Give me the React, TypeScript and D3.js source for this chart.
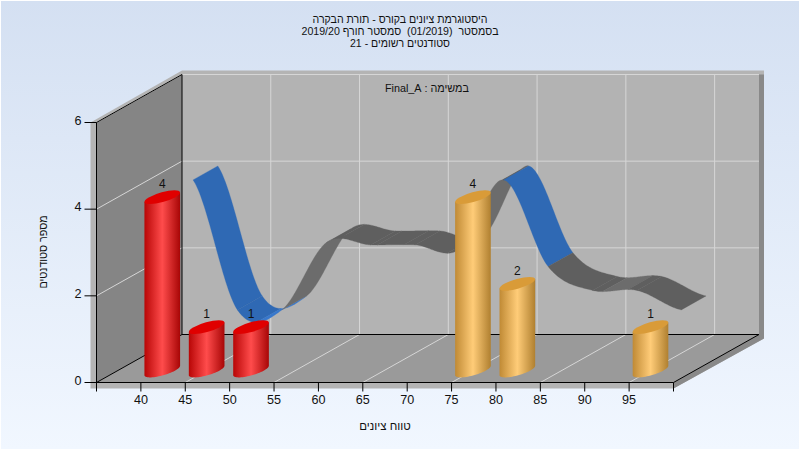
import * as d3 from "d3";

const bins = [40, 45, 50, 55, 60, 65, 70, 75, 80, 85, 90, 95];
const barValues = [4, 1, 1, 0, 0, 0, 0, 4, 2, 0, 0, 1];
const ribbonValues = [4, 1, 1, 2.55, 2.5, 2.5, 2.4, 4, 2, 1.45, 1.45, 1];
const blueBins = [40, 45, 75];
const redBins = [40, 45, 50];
const flatShadeBins = [55, 60, 65];
const yTicks = [0, 2, 4, 6];
const gridBins = [45, 55, 65, 75, 85, 95];
const titleLines = [
  "היסטוגרמת ציונים בקורס - תורת הבקרה",
  "בסמסטר  (01/2019)  סמסטר חורף 2019/20",
  "סטודנטים רשומים - 21",
];

const W = 800;
const H = 450;
const FONT = "'Liberation Sans', Arial, sans-serif";

const x = d3.scaleLinear().domain([35, 100]).range([96.5, 673.5]);
const y = d3.scaleLinear().domain([0, 6]).range([382.5, 122.5]);
// depth goes up and to the right
const dx = d3.scaleLinear().domain([0, 1]).range([0, 85.5]);
const dy = d3.scaleLinear().domain([0, 1]).range([0, -48]);

const x0 = x(35);
const x1 = x(100);
const y0 = y(0);
const y6 = y(6);
const D = dx(1);
const E = dy(1);

const poly = (pts: number[][]) => "M" + pts.map((p) => p.join(",")).join("L") + "Z";

// same tangents as the chart's spline
function spline(a: number, b: number, ma: number, mb: number, t: number) {
  const t2 = t * t;
  const t3 = t2 * t;
  return (2 * t3 - 3 * t2 + 1) * a + (t3 - 2 * t2 + t) * ma + (-2 * t3 + 3 * t2) * b + (t3 - t2) * mb;
}

// one polygon per run of the same shade, so no seams show between strips
function ribbonRuns() {
  const out: { d: string; fill: string }[] = [];
  const n = ribbonValues.length;
  const k0 = 0.61;
  const k1 = 0.9;
  const slope = (i: number) =>
    (ribbonValues[Math.min(i + 1, n - 1)] - ribbonValues[Math.max(i - 1, 0)]) / 2;
  const step = bins[1] - bins[0];
  for (let i = 0; i < n - 1; i++) {
    const blue = blueBins.includes(bins[i]);
    const flat = flatShadeBins.includes(bins[i]);
    const ts = d3.range(0, 41).map((d) => d / 40);
    const vals = ts.map((t) =>
      spline(ribbonValues[i], ribbonValues[i + 1], slope(i), slope(i + 1), t)
    );
    let run = [0];
    const flush = (up: boolean) => {
      const fill = blue ? (up ? "#3878cc" : "#2f69b4") : up && !flat ? "#6c6c6c" : "#5f5f5f";
      const front = run.map((j) => [x(bins[i] + step * ts[j]) + dx(k0), y(vals[j]) + dy(k0)]);
      const back = run.map((j) => [x(bins[i] + step * ts[j]) + dx(k1), y(vals[j]) + dy(k1)]);
      out.push({ fill, d: poly([...front, ...back.reverse()]) });
    };
    let up = vals[1] > vals[0];
    for (let j = 1; j < ts.length; j++) {
      const u = vals[j] > vals[j - 1];
      if (u !== up) {
        flush(up);
        run = [j - 1];
        up = u;
      }
      run.push(j);
    }
    flush(up);
  }
  return out;
}

const HALF_W = 13;
const HALF_DX = 12.2;
const HALF_DY = 6.9;

function Bar({ bin, value }: { bin: number; value: number }) {
  const red = redBins.includes(bin);
  const cx = x(bin) + dx(0.25);
  const cyBase = y(0) + dy(0.25);
  const cyTop = y(value) + dy(0.25);
  const start = Math.PI + Math.atan2(HALF_DX, HALF_W);
  const lower = d3.range(0, 33).map((i) => {
    const t = start + (Math.PI * i) / 32;
    return [cx + HALF_W * Math.cos(t) + HALF_DX * Math.sin(t), cyBase - HALF_DY * Math.sin(t)];
  });
  const last = lower[lower.length - 1];
  const first = lower[0];
  const h = cyBase - cyTop;
  const body = poly([...lower, [last[0], last[1] - h], [first[0], first[1] - h]]);
  return (
    <g>
      <path d={body} fill={red ? "url(#barRed)" : "url(#barOrange)"} />
      <ellipse
        rx={1}
        ry={1}
        transform={`matrix(${HALF_W} 0 ${HALF_DX} ${-HALF_DY} ${cx} ${cyTop})`}
        fill={red ? "#e00000" : "#d99b38"}
      />
      <text x={cx} y={cyTop - 9} textAnchor="middle" fontSize={12} fill="#111">
        {value}
      </text>
    </g>
  );
}

export default function App() {
  const grid = "#d6d6d6";
  return (
    <svg
      width={W}
      height={H}
      viewBox={`0 0 ${W} ${H}`}
      style={{ position: "absolute", left: 0, top: 0, fontFamily: FONT }}
    >
      <defs>
        <linearGradient id="bg" x1="0" y1="0" x2="0" y2="1">
          <stop offset="0" stopColor="#d4e0f2" />
          <stop offset="1" stopColor="#f1f7ff" />
        </linearGradient>
        <linearGradient id="barRed" x1="0" y1="0" x2="1" y2="0">
          <stop offset="0" stopColor="#b80606" />
          <stop offset="0.5" stopColor="#ff4c4c" />
          <stop offset="1" stopColor="#a80606" />
        </linearGradient>
        <linearGradient id="barOrange" x1="0" y1="0" x2="1" y2="0">
          <stop offset="0" stopColor="#c08a35" />
          <stop offset="0.5" stopColor="#ffcc78" />
          <stop offset="1" stopColor="#b08030" />
        </linearGradient>
      </defs>
      <rect x={0.5} y={0.5} width={W - 1} height={H - 1} fill="url(#bg)" stroke="#fff" />

      {/* outer edges of the box */}
      <path
        d={poly([
          [x0 - 6, y6],
          [x0 + D, y6 + E - 4],
          [x1 + D + 5, y6 + E - 4],
          [x1 + D + 5, y0 + E + 4],
          [x1, y0 + 6],
          [x0 - 6, y0 + 6],
        ])}
        fill="#b4b4b4"
      />
      <path
        d={poly([
          [x1 + D, y6 + E],
          [x1 + D + 5, y6 + E],
          [x1 + D + 5, y0 + E + 4],
          [x1, y0 + 6],
          [x1, y0],
          [x1 + D, y0 + E],
        ])}
        fill="#898989"
      />

      {/* walls */}
      <rect x={x0 + D} y={y6 + E} width={x1 - x0} height={y0 - y6} fill="#b3b3b3" />
      <path d={poly([[x0, y6], [x0 + D, y6 + E], [x0 + D, y0 + E], [x0, y0]])} fill="#858585" />
      <path d={poly([[x0, y0], [x0 + D, y0 + E], [x1 + D, y0 + E], [x1, y0]])} fill="#9a9a9a" />

      {/* grid */}
      {gridBins.map((b) => (
        <g key={b} stroke={grid} fill="none">
          <line x1={x(b)} y1={y0} x2={x(b) + D} y2={y0 + E} />
          <line x1={x(b) + D} y1={y0 + E} x2={x(b) + D} y2={y6 + E} />
        </g>
      ))}
      {yTicks.filter((t) => t > 0).map((t) => (
        <g key={t} stroke={grid} fill="none">
          <line x1={x0} y1={y(t)} x2={x0 + D} y2={y(t) + E} />
          <line x1={x0 + D} y1={y(t) + E} x2={x1 + D} y2={y(t) + E} />
        </g>
      ))}

      {/* axes */}
      <g stroke="#000" fill="none">
        <line x1={x0 + D} y1={y6 + E} x2={x0 + D} y2={y0 + E} />
        <line x1={x0 + D} y1={y0 + E} x2={x1 + D} y2={y0 + E} />
        <line x1={x0} y1={y0} x2={x0 + D} y2={y0 + E} />
        <line x1={x0} y1={y6} x2={x0 + D} y2={y6 + E} />
        <line x1={x1} y1={y0} x2={x1 + D} y2={y0 + E} />
        <line x1={x0} y1={y6} x2={x0} y2={y0 + 9} />
        <line x1={x0} y1={y0} x2={x1} y2={y0} />
        <line x1={x1} y1={y0} x2={x1} y2={y0 + 9} />
        {bins.map((b) => (
          <line key={b} x1={x(b)} y1={y0} x2={x(b)} y2={y0 + 9} />
        ))}
        {yTicks.map((t) => (
          <line key={t} x1={x0 - 12} y1={y(t)} x2={x0} y2={y(t)} />
        ))}
      </g>

      {/* ribbon sits behind the bars */}
      <g>
        {ribbonRuns().map((q, i) => (
          <path key={i} d={q.d} fill={q.fill} stroke={q.fill} strokeWidth={0.3} />
        ))}
      </g>

      {bins.map((b, i) =>
        barValues[i] > 0 ? <Bar key={b} bin={b} value={barValues[i]} /> : null
      )}

      {/* tick labels */}
      <g fontSize={12.6} fill="#111">
        {bins.map((b) => (
          <text key={b} x={x(b)} y={y0 + 21.5} textAnchor="middle">
            {b}
          </text>
        ))}
        {yTicks.map((t) => (
          <text key={t} x={x0 - 15} y={y(t) + 2} textAnchor="end">
            {t}
          </text>
        ))}
      </g>

      {/* titles, the original font runs narrower than Liberation */}
      <g fontSize={11} fill="#111" textAnchor="middle" direction="rtl">
        {titleLines.map((line, i) => (
          <text
            key={i}
            x={400}
            y={22.5 + i * 12}
            style={{ whiteSpace: "pre" }}
            textLength={[175, 197, 100][i]}
            lengthAdjust="spacingAndGlyphs"
          >
            {line}
          </text>
        ))}
        <text x={427} y={92} textLength={84} lengthAdjust="spacingAndGlyphs">
          במשימה : Final_A
        </text>
        <text x={385} y={430} fontSize={11.5}>
          טווח ציונים
        </text>
        <text transform="translate(47,252) rotate(-90)" textLength={73} lengthAdjust="spacingAndGlyphs">
          מספר סטודנטים
        </text>
      </g>
    </svg>
  );
}
